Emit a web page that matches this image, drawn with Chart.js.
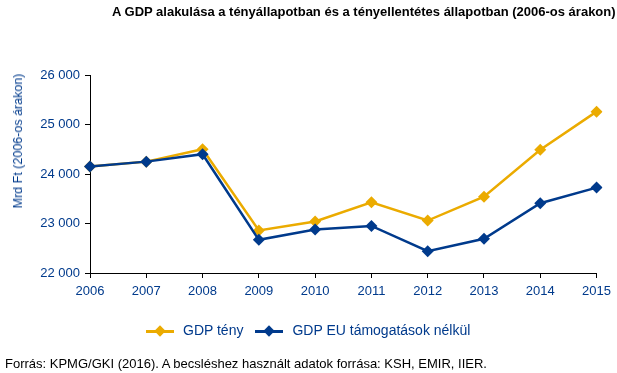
<!DOCTYPE html>
<html>
<head>
<meta charset="utf-8">
<script src="https://cdn.jsdelivr.net/npm/chart.js@4"></script>
<style>
  body { margin: 0; background: #fff; font-family: "Liberation Sans", Arial, sans-serif; }
  #wrap { position: relative; width: 617px; height: 373px; overflow: hidden; }
  #chart { position: absolute; left: 0; top: 0; }
  .title { position: absolute; left: 112px; top: 4px; font-size: 13px; font-weight: bold; color: #000; white-space: nowrap; }
  .ytitle { position: absolute; left: 18px; top: 141px; transform: translate(-50%, -50%) rotate(-90deg); font-size: 12.5px; color: #003a8c; white-space: nowrap; }
  .legend { position: absolute; top: 321px; left: 146px; font-size: 14px; color: #003a8c; white-space: nowrap; }
  .legend span.item { display: inline-block; vertical-align: middle; }
  .sym { display: inline-block; position: relative; width: 28px; height: 14px; vertical-align: middle; margin-right: 9px; }
  .sym .ln { position: absolute; left: 0; right: 0; top: 6px; height: 3px; }
  .sym .dm { position: absolute; left: 10px; top: 3px; width: 8px; height: 8px; transform: rotate(45deg); }
  .src { position: absolute; left: 5px; top: 356px; font-size: 13px; color: #000; white-space: nowrap; }
</style>
</head>
<body>
<div id="wrap">
  <canvas id="chart" width="617" height="373"></canvas>
  <div class="title">A GDP alakulása a tényállapotban és a tényellentétes állapotban (2006-os árakon)</div>
  <div class="ytitle">Mrd Ft (2006-os árakon)</div>
  <div class="legend" id="legend"></div>
  <div class="src">Forrás: KPMG/GKI (2016). A becsléshez használt adatok forrása: KSH, EMIR, IIER.</div>
</div>
<script>
// Adatok
const years = ['2006', '2007', '2008', '2009', '2010', '2011', '2012', '2013', '2014', '2015'];
const gdpTeny = [24150, 24250, 24500, 22860, 23040, 23430, 23060, 23540, 24490, 25260];
const gdpEuNelkul = [24150, 24250, 24400, 22670, 22880, 22950, 22440, 22690, 23410, 23725];
const seriesNames = ['GDP tény', 'GDP EU támogatások nélkül'];
const yTicks = [22000, 23000, 24000, 25000, 26000];

const orange = '#ebab00';
const blue = '#003a8c';

// Jelmagyarázat
const legendEl = document.getElementById('legend');
[[seriesNames[0], orange], [seriesNames[1], blue]].forEach((s, i) => {
    const item = document.createElement('span');
    item.className = 'item';
    item.style.marginRight = i === 0 ? '12px' : '0';
    item.innerHTML = `<span class="sym"><span class="ln" style="background:${s[1]}"></span><span class="dm" style="background:${s[1]}"></span></span>${s[0]}`;
    legendEl.appendChild(item);
});

const ctx = document.getElementById('chart').getContext('2d');
new Chart(ctx, {
    type: 'line',
    data: {
        labels: years,
        datasets: [{
            label: seriesNames[0],
            data: gdpTeny,
            borderColor: orange,
            backgroundColor: orange,
            borderWidth: 2.5,
            pointStyle: 'rectRot',
            pointRadius: 6,
            pointBorderWidth: 0,
            tension: 0,
            order: 1
        }, {
            label: seriesNames[1],
            data: gdpEuNelkul,
            borderColor: blue,
            backgroundColor: blue,
            borderWidth: 2.5,
            pointStyle: 'rectRot',
            pointRadius: 6,
            pointBorderWidth: 0,
            tension: 0,
            order: 0
        }]
    },
    options: {
        responsive: false,
        animation: false,
        layout: { padding: { top: 75, right: 18, bottom: 70, left: 0 } },
        plugins: {
            legend: { display: false },
            title: { display: false },
            tooltip: { enabled: false }
        },
        scales: {
            x: {
                offset: false,
                grid: { display: true, drawOnChartArea: false, drawTicks: true, tickLength: 5, color: '#000' },
                border: { display: true, color: '#000', width: 1 },
                ticks: { color: blue, font: { family: 'Liberation Sans', size: 13 }, padding: 6, maxRotation: 0 },
                afterFit: (axis) => { axis.height = 30; }
            },
            y: {
                min: 22000,
                max: 26000,
                afterBuildTicks: (axis) => { axis.ticks = yTicks.map(v => ({ value: v })); },
                grid: { display: true, drawOnChartArea: false, drawTicks: true, tickLength: 5, color: '#000' },
                border: { display: true, color: '#000', width: 1 },
                ticks: {
                    color: blue,
                    font: { family: 'Liberation Sans', size: 13 },
                    padding: 5,
                    callback: (v) => String(v).replace(/\B(?=(\d{3})+(?!\d))/g, ' ')
                },
                afterFit: (axis) => { axis.width = 90; }
            }
        }
    }
});
</script>
</body>
</html>
